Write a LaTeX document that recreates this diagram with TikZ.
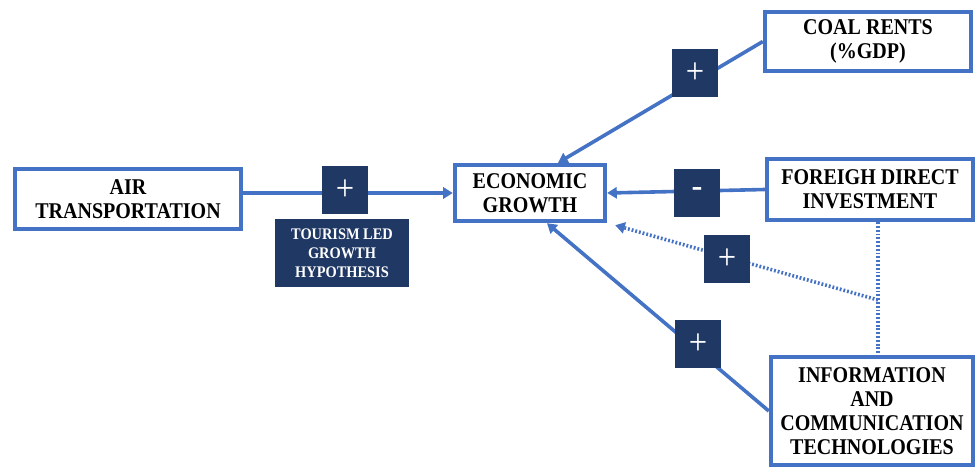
\documentclass[tikz,border=0pt]{standalone}
\usepackage{fontspec}
\setmainfont{Liberation Serif}[FakeStretch=0.89]
\usepackage{xcolor}
\usepackage{tikz}
\usetikzlibrary{arrows.meta}
\definecolor{linkblue}{HTML}{4472C4}
\definecolor{navy}{HTML}{1F3864}

\begin{document}
\begin{tikzpicture}[x=0.25mm, y=-0.25mm,
    factor/.style={draw=linkblue, line width=1.1mm, fill=white, align=center, inner sep=0pt,
        font=\fontsize{16}{17}\selectfont\bfseries},
    sign/.style={fill=navy, text=white, inner sep=0pt, minimum width=11.5mm, minimum height=12mm,
        font=\fontsize{26}{26}\selectfont},
    link/.style={linkblue, line width=0.9mm, -{Triangle[length=2.4mm,width=2.8mm]}},
    weak/.style={linkblue, line width=0.9mm, dash pattern=on 1.3pt off 1.4pt}]
    \useasboundingbox (0,0) rectangle (976,468);

    % factors
    \node[factor, minimum width=56.5mm, minimum height=15mm] (air) at (128,199) {AIR\\TRANSPORTATION};
    \node[factor, minimum width=37.5mm, minimum height=14mm] (econ) at (530,193) {ECONOMIC\\GROWTH};
    \node[factor, minimum width=51.5mm, minimum height=14.75mm] (coal) at (868,41.5) {COAL RENTS\\(\%GDP)};
    \node[factor, minimum width=51.5mm, minimum height=15.25mm] (fdi) at (870,189.5) {FOREIGH DIRECT\\INVESTMENT};
    \node[factor, minimum width=50.5mm, minimum height=27mm] (ict) at (872,411) {INFORMATION\\AND\\COMMUNICATION\\TECHNOLOGIES};

    % links
    \draw[link] (air.east |- econ.west) -- (econ.west);
    \draw[link] (coal.west) -- ([xshift=7mm]econ.north);
    \draw[link] (fdi.west) -- (econ.east);
    \draw[link] (ict.west) -- ([xshift=4.25mm]econ.south);

    % moderating effect
    \coordinate (split) at (878,300);
    \draw[weak] (fdi.south -| split) -- (ict.north -| split);
    \draw[weak, -{Triangle[length=2.4mm,width=2.8mm]}] (split) -- ([xshift=2mm,yshift=-0.5mm]econ.south east);

    % signs
    \node[sign] (s-air) at (345,190) {+};
    \node[sign] (s-coal) at (695,73) {+};
    \node[sign] (s-fdi) at (697,193) {-};
    \node[sign] (s-mod) at (727,259) {+};
    \node[sign] (s-ict) at (698,344) {+};
    \node[fill=navy, text=white, align=center, inner sep=0pt, minimum width=33.5mm, minimum height=17mm,
        font=\fontsize{11.5}{13.5}\selectfont\bfseries] (tlgh) at (342,253) {TOURISM LED\\GROWTH\\HYPOTHESIS};
\end{tikzpicture}
\end{document}
